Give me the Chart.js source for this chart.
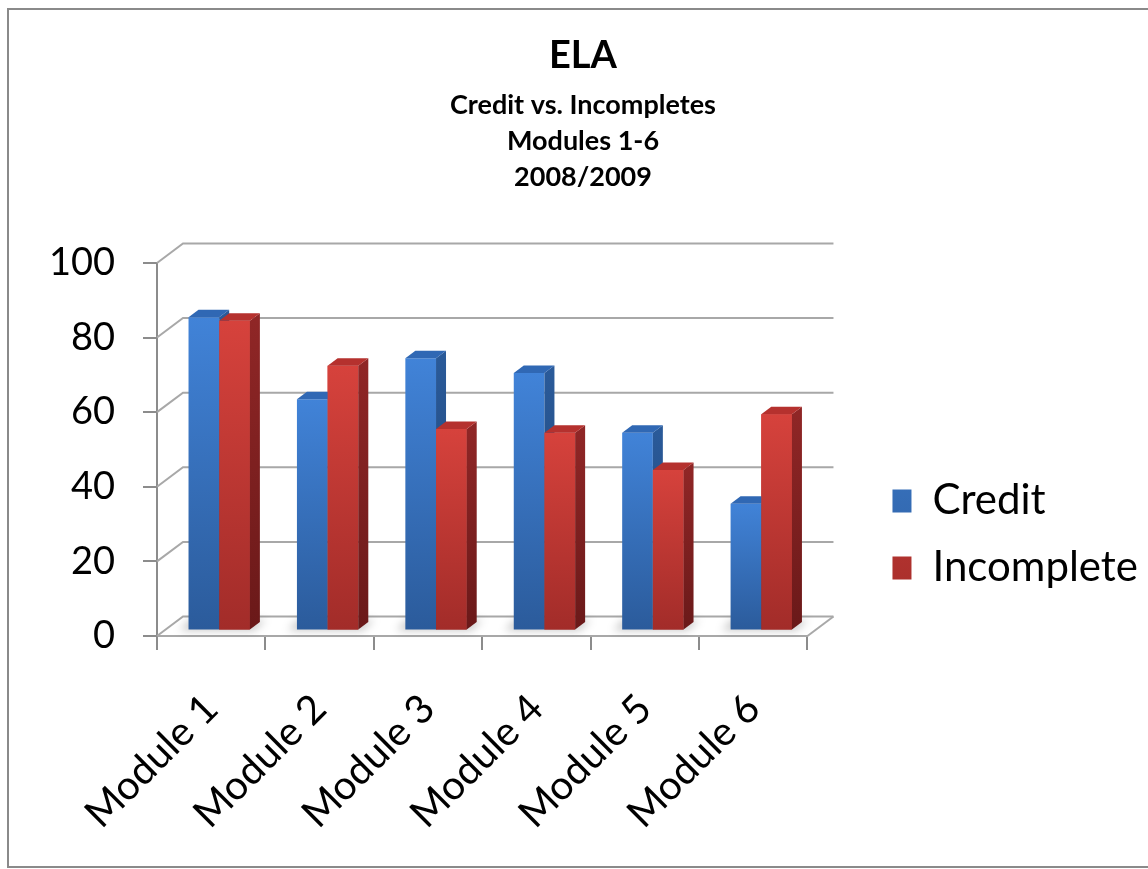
<!DOCTYPE html>
<html>
<head>
<meta charset="utf-8">
<title>ELA - Credit vs. Incompletes</title>
<script src="https://cdn.jsdelivr.net/npm/chart.js@4.4.1/dist/chart.umd.min.js"></script>
<style>
  html, body { margin: 0; padding: 0; background: #fff; }
  canvas { display: block; }
</style>
</head>
<body>
<canvas id="chart" width="1148" height="869"></canvas>
<script>
// data
const modules = ['Module 1', 'Module 2', 'Module 3', 'Module 4', 'Module 5', 'Module 6'];
const credit = [84, 62, 73, 69, 53, 34];
const incomplete = [83, 71, 54, 53, 43, 58];
const yTicks = [0, 20, 40, 60, 80, 100];
const titleText = 'ELA';
const subtitleLines = ['Credit vs. Incompletes', 'Modules 1-6', '2008/2009'];

// colours for the front, top and side faces of each series
const shades = {
    credit: { light: '#4183d8', dark: '#2b5b9b', top: '#3068b4', sideTop: '#2a5a99', sideBottom: '#1e4375', key: '#3672c2' },
    incomplete: { light: '#d6423c', dark: '#a22c29', top: '#b5312e', sideTop: '#8f2626', sideBottom: '#6a1919', key: '#c83a36' },
};

// fake 3D: back wall offset, bar plane offset and bar depth
const WALL = { dx: 26, dy: -19.5 };
const BAR_SHIFT = { dx: 8, dy: -5.5 };
const BAR_DEPTH = { dx: 10, dy: -7.5 };
const WALL_ROOM = 60; // free strip between the category axis and the legend

const GRID = '#a8a8a8';
const AXIS = '#8c8c8c';
const FONT = 'Lato, "Open Sans", sans-serif';

// vertical gradient on each bar's front face
function frontFill(shade) {
    return (c) => {
        const y = c.chart.scales.y;
        if (c.type !== 'data' || !y || c.raw == null) return shade.key;
        const top = y.getPixelForValue(c.raw);
        const base = y.getPixelForValue(0);
        if (!isFinite(top) || !isFinite(base) || top === base) return shade.light;
        const g = c.chart.ctx.createLinearGradient(0, top, 0, base);
        g.addColorStop(0, shade.light);
        g.addColorStop(1, shade.dark);
        return g;
    };
}

function drawSideAndTop(ctx, bar, shade) {
    const { x, y, base, width } = bar.getProps(['x', 'y', 'base', 'width'], true);
    if (![x, y, base, width].every(isFinite)) return;
    const l = x - width / 2;
    const r = x + width / 2;

    const side = ctx.createLinearGradient(0, y, 0, base + 1);
    side.addColorStop(0, shade.sideTop);
    side.addColorStop(1, shade.sideBottom);
    ctx.fillStyle = side;
    ctx.beginPath();
    ctx.moveTo(r, y);
    ctx.lineTo(r + BAR_DEPTH.dx, y + BAR_DEPTH.dy);
    ctx.lineTo(r + BAR_DEPTH.dx, base + BAR_DEPTH.dy);
    ctx.lineTo(r, base);
    ctx.closePath();
    ctx.fill();

    ctx.fillStyle = shade.top;
    ctx.beginPath();
    ctx.moveTo(l, y);
    ctx.lineTo(l + BAR_DEPTH.dx, y + BAR_DEPTH.dy);
    ctx.lineTo(r + BAR_DEPTH.dx, y + BAR_DEPTH.dy);
    ctx.lineTo(r, y);
    ctx.closePath();
    ctx.fill();
}

const frame3d = {
    id: 'frame3d',
    afterLayout(chart) {
        // pull the category axis in so the back wall fits before the legend
        const x = chart.scales.x;
        x.right = chart.chartArea.right - WALL_ROOM;
        x.width = x.right - x.left;
        x.configure();
    },
    beforeDraw(chart) {
        const { ctx } = chart;
        ctx.save();
        ctx.fillStyle = '#fff';
        ctx.fillRect(0, 0, chart.width, chart.height);
        ctx.strokeStyle = '#8a8a8a';
        ctx.lineWidth = 2;
        ctx.strokeRect(8, 9, chart.width + 10, chart.height - 11);
        ctx.restore();
    },
    beforeDatasetsDraw(chart) {
        const { ctx, scales: { x, y } } = chart;
        const left = x.left;
        const right = x.right;
        const floor = y.getPixelForValue(0);

        // side wall + back wall gridlines
        ctx.save();
        ctx.strokeStyle = GRID;
        ctx.lineWidth = 2;
        yTicks.forEach((v) => {
            const py = y.getPixelForValue(v);
            ctx.beginPath();
            ctx.moveTo(left, py);
            ctx.lineTo(left + WALL.dx, py + WALL.dy);
            ctx.lineTo(right + WALL.dx, py + WALL.dy);
            ctx.stroke();
        });
        // right edge of the floor
        ctx.beginPath();
        ctx.moveTo(right, floor);
        ctx.lineTo(right + WALL.dx, floor + WALL.dy);
        ctx.stroke();
        ctx.restore();

        // bars stand a little behind the axis plane
        ctx.save();
        ctx.translate(BAR_SHIFT.dx, BAR_SHIFT.dy);

        // soft shadows on the floor
        const a0 = chart.getDatasetMeta(0).data;
        const a1 = chart.getDatasetMeta(1).data;
        ctx.save();
        ctx.filter = 'blur(4px)';
        ctx.fillStyle = 'rgba(0,0,0,0.22)';
        a0.forEach((bar, i) => {
            const l = bar.x - bar.width / 2;
            const r = a1[i].x + a1[i].width / 2;
            const b = bar.base;
            ctx.beginPath();
            ctx.moveTo(l - 9, b + 1);
            ctx.lineTo(r + 4, b + 1);
            ctx.lineTo(r + BAR_DEPTH.dx + 6, b + BAR_DEPTH.dy - 2);
            ctx.lineTo(l + BAR_DEPTH.dx - 9, b + BAR_DEPTH.dy - 2);
            ctx.closePath();
            ctx.fill();
        });
        ctx.restore();
    },
    afterDatasetsDraw(chart) {
        const { ctx } = chart;
        const a0 = chart.getDatasetMeta(0).data;
        const a1 = chart.getDatasetMeta(1).data;
        a0.forEach((bar, i) => {
            drawSideAndTop(ctx, bar, shades.credit);
            // red bar in front of the blue one's side face
            a1[i].draw(ctx);
            drawSideAndTop(ctx, a1[i], shades.incomplete);
        });
        ctx.restore();
    },
};

new Chart(document.getElementById('chart'), {
    type: 'bar',
    data: {
        labels: modules,
        datasets: [
            { label: 'Credit', data: credit, backgroundColor: frontFill(shades.credit), borderWidth: 0 },
            { label: 'Incomplete', data: incomplete, backgroundColor: frontFill(shades.incomplete), borderWidth: 0 },
        ],
    },
    options: {
        responsive: false,
        animation: false,
        events: [],
        categoryPercentage: 0.566,
        barPercentage: 1,
        layout: { padding: { left: 18, right: 0, top: 10, bottom: 0 } },
        plugins: {
            tooltip: { enabled: false },
            title: {
                display: true,
                text: titleText,
                color: '#000',
                font: { family: FONT, size: 38, weight: 'bold', lineHeight: 1.2 },
                padding: { top: 23, bottom: 8 },
            },
            subtitle: {
                display: true,
                text: subtitleLines,
                color: '#000',
                font: { family: FONT, size: 27, weight: 'bold', lineHeight: 1.35 },
                padding: { top: 0, bottom: 67 },
            },
            legend: {
                position: 'right',
                align: 'start',
                fullSize: false,
                title: { display: true, text: '', font: { size: 10, lineHeight: 1 }, padding: { top: 182, bottom: 0 } },
                labels: {
                    boxWidth: 19,
                    boxHeight: 23,
                    padding: 25,
                    color: '#000',
                    font: { family: FONT, size: 42 },
                },
            },
        },
        scales: {
            x: {
                position: 'bottom',
                afterFit: (s) => { s.height = 233; },
                grid: { offset: true, drawOnChartArea: false, drawTicks: true, tickLength: 14, color: AXIS, lineWidth: 2 },
                border: { display: true, color: GRID, width: 2 },
                ticks: {
                    autoSkip: false,
                    minRotation: 45,
                    maxRotation: 45,
                    padding: 35,
                    color: '#000',
                    font: { family: FONT, size: 40 },
                },
            },
            y: {
                position: 'left',
                min: 0,
                max: 100,
                afterBuildTicks: (s) => { s.ticks = yTicks.map((v) => ({ value: v })); },
                afterFit: (s) => { s.width = 139; },
                grid: { drawOnChartArea: false, drawTicks: true, tickLength: 14, color: AXIS, lineWidth: 2 },
                border: { display: true, color: AXIS, width: 2 },
                ticks: { padding: 28, color: '#000', font: { family: FONT, size: 38 } },
            },
        },
    },
    plugins: [frame3d],
});
</script>
</body>
</html>
